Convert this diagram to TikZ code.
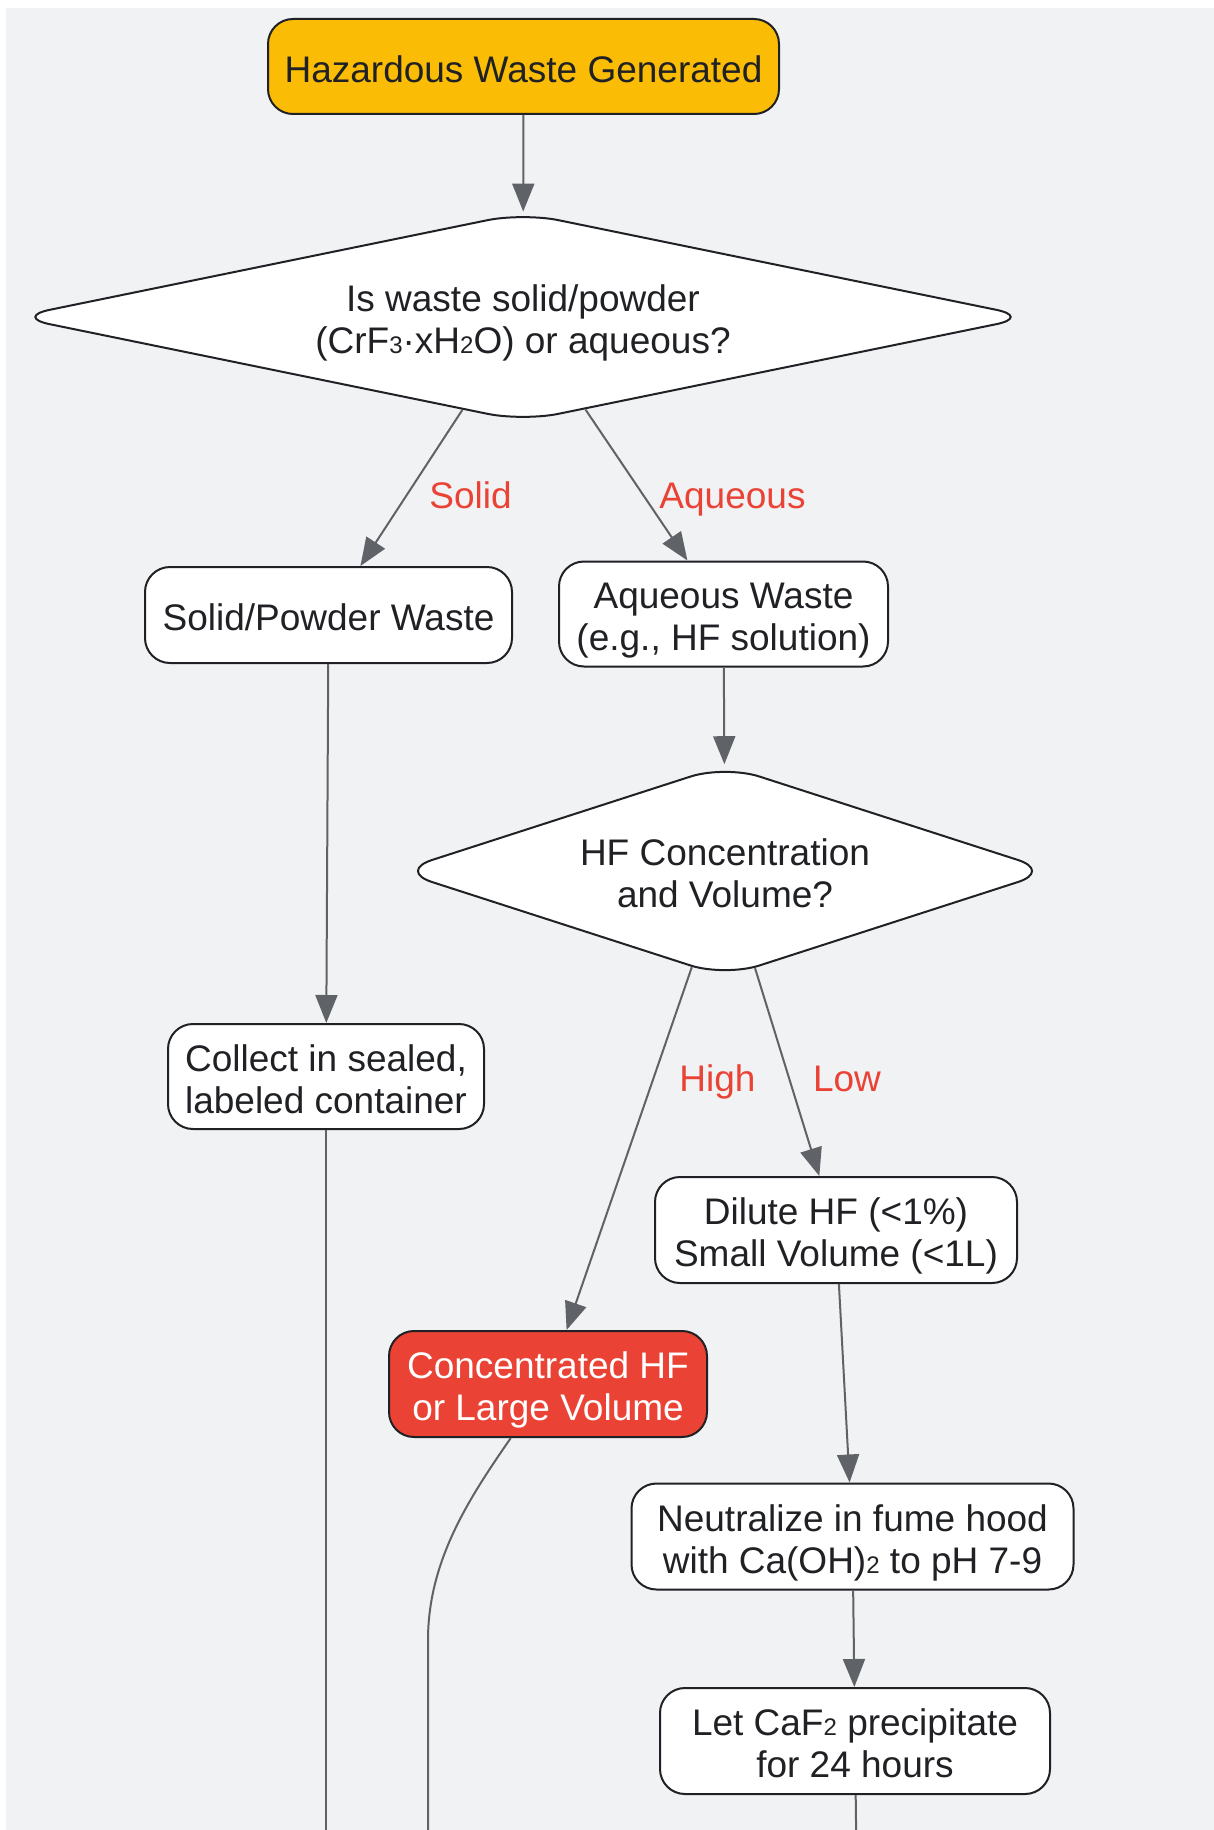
\documentclass[tikz,border=0pt]{standalone}
\usepackage{fontspec}
\setmainfont{Liberation Sans}
\usetikzlibrary{shapes.geometric,arrows.meta}
\definecolor{bgc}{HTML}{F1F2F4}
\definecolor{amber}{HTML}{FBBC05}
\definecolor{hfred}{HTML}{EA4335}
\definecolor{ink}{HTML}{202124}
\definecolor{edgec}{HTML}{5F6368}
\newcommand\sbs[1]{{\fontsize{12}{12}\selectfont #1}}
\newcommand\fst{\rule{0pt}{20.6pt}}
\newcommand\lst{\rule[-5pt]{0pt}{5pt}}
\begin{document}
\begin{tikzpicture}[x=0.5pt,y=-0.5pt,
  txt/.style={font=\fontsize{18.5}{21}\selectfont},
  box/.style={txt,draw=ink,line width=1pt,rounded corners=12.5pt,fill=white,align=center,inner sep=0pt,text=ink},
  dia/.style={txt,diamond,draw=ink,line width=1pt,rounded corners=18pt,fill=white,align=center,inner sep=0pt,text=ink},
  arr/.style={draw=edgec,line width=1pt,-{Triangle[length=14pt,width=11pt]}},
  ln/.style={draw=edgec,line width=1pt},
  lab/.style={txt,text=hfred,inner sep=0pt}]
\useasboundingbox (0,0) rectangle (1214,1830);
\clip (0,0) rectangle (1214,1830);
\fill[bgc] (6,8) rectangle (1214,1830);

\node[box,fill=amber,minimum width=255.5pt,minimum height=47.5pt] (haz) at (523.5,66.5) {\fst Hazardous Waste Generated\lst};
\node[dia,aspect=5,minimum width=508.75pt,minimum height=104.5pt] (d1) at (523,317) {\fst Is waste solid/powder\\(CrF\sbs{3}·xH\sbs{2}O) or aqueous?\lst};
\node[box,minimum width=183.5pt,minimum height=48pt] (solid) at (328.5,615) {\fst Solid/Powder Waste\lst};
\node[box,minimum width=164.5pt,minimum height=52.5pt] (aq) at (723.5,614) {\fst Aqueous Waste\\(e.g., HF solution)\lst};
\node[dia,aspect=3.1,minimum width=327.5pt,minimum height=106pt] (d2) at (725,871) {\fst HF Concentration\\and Volume?\lst};
\node[box,minimum width=158pt,minimum height=52.5pt] (collect) at (326,1076.5) {\fst Collect in sealed,\\labeled container\lst};
\node[box,minimum width=181pt,minimum height=53pt] (dilute) at (836,1230) {\fst Dilute HF (<1\%)\\Small Volume (<1L)\lst};
\node[box,fill=hfred,text=white,minimum width=159pt,minimum height=53pt] (conc) at (548,1384) {\fst Concentrated HF\\or Large Volume\lst};
\node[box,minimum width=221pt,minimum height=53pt] (neut) at (852.5,1536.5) {\fst Neutralize in fume hood\\with Ca(OH)\sbs{2} to pH 7-9\lst};
\node[box,minimum width=195pt,minimum height=53pt] (let) at (855,1741) {\fst Let CaF\sbs{2} precipitate\\for 24 hours\lst};

\coordinate (e1) at (326,1900);
\coordinate (bend) at (428,1640);
\coordinate (e2) at (428,1900);
\coordinate (e3) at (857,1900);

\draw[arr] (haz) -- (d1);
\draw[arr] (d1) -- (solid);
\draw[arr] (d1) -- (aq);
\draw[arr] (solid) -- (collect);
\draw[arr] (aq) -- (d2);
\draw[arr] (d2) -- (conc);
\draw[arr] (d2) -- (dilute);
\draw[arr] (dilute) -- (neut);
\draw[arr] (neut) -- (let);
\draw[ln] (collect) -- (e1);
\draw[ln] (conc) .. controls (470,1497) and (428,1560) .. (bend) -- (e2);
\draw[ln] (let) -- (e3);

\node[lab] (lsolid) at (470.5,493) {\fst Solid\lst};
\node[lab] (laq) at (732.5,493) {\fst Aqueous\lst};
\node[lab] (lhigh) at (717.5,1075.5) {\fst High\lst};
\node[lab] (llow) at (847,1075.5) {\fst Low\lst};
\end{tikzpicture}
\end{document}
